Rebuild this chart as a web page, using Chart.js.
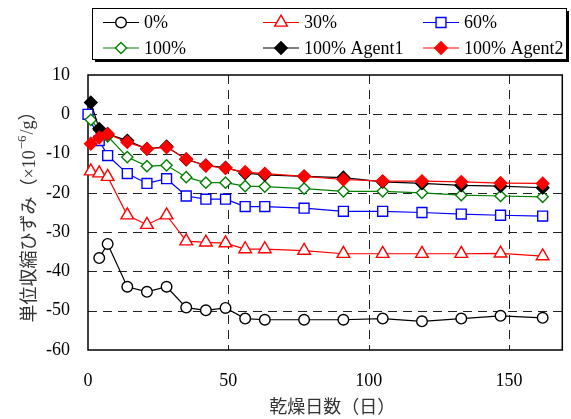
<!DOCTYPE html>
<html>
<head>
<meta charset="utf-8">
<script src="https://cdn.jsdelivr.net/npm/chart.js@4.4.1/dist/chart.umd.min.js"></script>
<style>
  html, body { margin: 0; padding: 0; background: #fff; }
  #wrap { width: 571px; height: 419px; }
</style>
</head>
<body>
<div id="wrap"><canvas id="c" width="571" height="419"></canvas></div>
<script>
// Drying days at which each specimen was measured
const daysFrom4 = [4, 7, 14, 21, 28, 35, 42, 49, 56, 63, 77, 91, 105, 119, 133, 147, 162];
const daysFrom1 = [1, 4, 7, 14, 21, 28, 35, 42, 49, 56, 63, 77, 91, 105, 119, 133, 147, 162];
const daysFrom0 = [0, 4, 7, 14, 21, 28, 35, 42, 49, 56, 63, 77, 91, 105, 119, 133, 147, 162];

const seriesNames = ['0%', '30%', '60%', '100%', '100% Agent1', '100% Agent2'];

// Unit shrinkage strain (×10^-6 /g)
const shrink0   = [-36.6, -33.0, -43.9, -45.2, -43.9, -49.2, -49.9, -49.3, -52.0, -52.3, -52.3, -52.3, -52.0, -52.7, -52.0, -51.3, -51.8];
const shrink30  = [-14.5, -15.0, -15.9, -25.7, -28.1, -25.7, -32.3, -32.6, -32.8, -34.3, -34.3, -34.7, -35.5, -35.5, -35.5, -35.5, -35.4, -36.1];
const shrink60  = [0.0, -6.7, -10.5, -15.1, -17.6, -16.4, -20.8, -21.6, -21.6, -23.5, -23.5, -23.9, -24.7, -24.7, -25.0, -25.4, -25.7, -25.9];
const shrink100 = [-1.4, -4.0, -5.6, -10.9, -13.2, -13.0, -16.0, -17.4, -17.4, -18.3, -18.4, -18.9, -19.6, -19.6, -20.0, -20.6, -20.8, -21.0];
const shrinkA1  = [3.0, -3.7, -5.0, -6.7, -8.8, -8.2, -11.5, -13.0, -13.6, -15.0, -15.4, -15.8, -16.1, -17.2, -17.6, -18.1, -18.3, -18.7];
const shrinkA2  = [-7.5, -5.9, -5.0, -7.1, -8.8, -8.4, -11.4, -13.1, -13.7, -14.7, -15.1, -15.8, -16.6, -17.0, -17.0, -17.2, -17.5, -17.6];

const xTicks = [0, 50, 100, 150];
const yTicks = [-60, -50, -40, -30, -20, -10, 0, 10];

const xTitle = '乾燥日数（日）';
const yTitleMain = '単位収縮ひずみ（×10';
const yTitleSup = '−6';
const yTitleTail = '/g）';

const pair = (xs, ys) => xs.map((x, i) => ({ x: x, y: ys[i] }));

const serifFont = '"Liberation Serif", "Times New Roman", "Noto Sans CJK JP", serif';
const cjkFont = '"Liberation Serif", "Noto Sans CJK JP", sans-serif';

function series(i, xs, ys, color, style, radius, filled) {
  return {
    label: seriesNames[i],
    data: pair(xs, ys),
    borderColor: color,
    backgroundColor: color,
    borderWidth: 1.2,
    pointStyle: style,
    pointRadius: radius,
    pointHoverRadius: radius,
    pointBorderColor: color,
    pointBackgroundColor: filled ? color : '#ffffff',
    pointBorderWidth: 1.4,
    fill: false,
    tension: 0,
    clip: false,
    order: 5 - i
  };
}

const datasets = [
  series(0, daysFrom4, shrink0,   '#000000', 'circle',   5.3, false),
  series(1, daysFrom1, shrink30,  '#ff0000', 'triangle', 7.3, false),
  series(2, daysFrom0, shrink60,  '#0000ff', 'rect',     7,   false),
  series(3, daysFrom1, shrink100, '#008000', 'rectRot',  5.6, false),
  series(4, daysFrom1, shrinkA1,  '#000000', 'rectRot',  6.2, true),
  series(5, daysFrom1, shrinkA2,  '#ff0000', 'rectRot',  6.2, true)
];

// Dashed grid at the inner ticks plus a solid frame around the plotting area
const framePlugin = {
  id: 'frame',
  beforeDatasetsDraw(chart) {
    const a = chart.chartArea, ctx = chart.ctx;
    const xs = chart.scales.x, ys = chart.scales.y;
    ctx.save();
    ctx.strokeStyle = '#222';
    ctx.lineWidth = 1;
    ctx.setLineDash([9, 6]);
    xTicks.forEach(v => {
      const px = Math.round(xs.getPixelForValue(v)) + 0.5;
      if (px <= a.left + 1 || px >= a.right - 1) return;
      ctx.beginPath(); ctx.moveTo(px, a.top); ctx.lineTo(px, a.bottom); ctx.stroke();
    });
    yTicks.forEach(v => {
      const py = Math.round(ys.getPixelForValue(v)) + 0.5;
      if (py <= a.top + 1 || py >= a.bottom - 1) return;
      ctx.beginPath(); ctx.moveTo(a.left, py); ctx.lineTo(a.right, py); ctx.stroke();
    });
    ctx.setLineDash([]);
    ctx.strokeStyle = '#000';
    ctx.lineWidth = 1.5;
    ctx.strokeRect(a.left, a.top, a.right - a.left, a.bottom - a.top);
    ctx.restore();
  }
};

// Boxed legend in three columns with a drop shadow, and the axis titles
const legendPlugin = {
  id: 'boxLegend',
  afterDraw(chart) {
    const ctx = chart.ctx;
    const bx = 92, by = 8, bw = 474, bh = 51;
    ctx.save();
    ctx.fillStyle = '#000';
    ctx.fillRect(bx + 3, by + 3, bw, bh);
    ctx.fillStyle = '#fff';
    ctx.fillRect(bx, by, bw, bh);
    ctx.strokeStyle = '#000';
    ctx.lineWidth = 1;
    ctx.strokeRect(bx + 0.5, by + 0.5, bw, bh);

    const colX = [103, 263, 423];
    const rowY = [22.5, 48];
    const lineLen = 36;
    chart.data.datasets.forEach((ds, i) => {
      const x0 = colX[i % 3], y = rowY[Math.floor(i / 3)];
      ctx.strokeStyle = ds.borderColor;
      ctx.lineWidth = 1.2;
      ctx.beginPath();
      ctx.moveTo(x0, y);
      ctx.lineTo(x0 + lineLen, y);
      ctx.stroke();
      ctx.fillStyle = ds.pointBackgroundColor;
      ctx.strokeStyle = ds.pointBorderColor;
      ctx.lineWidth = ds.pointBorderWidth;
      Chart.helpers.drawPoint(ctx, {
        pointStyle: ds.pointStyle, radius: ds.pointRadius, rotation: 0, borderWidth: ds.pointBorderWidth
      }, x0 + lineLen / 2, y);
      ctx.fillStyle = '#000';
      ctx.font = '18px ' + serifFont;
      ctx.textAlign = 'left';
      ctx.textBaseline = 'middle';
      ctx.fillText(ds.label, x0 + lineLen + 5, y + 1);
    });

    // axis titles
    const a = chart.chartArea;
    ctx.fillStyle = '#333';
    ctx.font = '18px ' + cjkFont;
    ctx.textAlign = 'center';
    ctx.textBaseline = 'middle';
    ctx.fillText(xTitle, (a.left + a.right) / 2 + 7, 408);

    ctx.translate(30, (a.top + a.bottom) / 2);
    ctx.rotate(-Math.PI / 2);
    ctx.textAlign = 'left';
    ctx.textBaseline = 'middle';
    const mainFont = '18px ' + cjkFont, supFont = '13px ' + serifFont;
    ctx.font = mainFont;
    const w1 = ctx.measureText(yTitleMain).width;
    const w3 = ctx.measureText(yTitleTail).width;
    ctx.font = supFont;
    const w2 = ctx.measureText(yTitleSup).width + 2;
    let x = -(w1 + w2 + w3) / 2;
    ctx.font = mainFont;
    ctx.fillText(yTitleMain, x, 0);
    x += w1;
    ctx.font = supFont;
    ctx.fillText(yTitleSup, x + 1, -7);
    x += w2;
    ctx.font = mainFont;
    ctx.fillText(yTitleTail, x, -2);
    ctx.restore();
  }
};

new Chart(document.getElementById('c'), {
  type: 'line',
  data: { datasets: datasets },
  options: {
    responsive: false,
    animation: false,
    events: [],
    layout: { padding: { top: 75, right: 6, left: 0, bottom: 0 } },
    plugins: { legend: { display: false }, tooltip: { enabled: false } },
    scales: {
      x: {
        type: 'linear',
        min: 0,
        max: 169,
        afterBuildTicks(scale) { scale.ticks = xTicks.map(v => ({ value: v })); },
        afterFit(scale) { scale.height = 69; },
        ticks: {
          color: '#000',
          font: { family: serifFont, size: 18 },
          padding: 20,
          maxRotation: 0
        },
        grid: { display: false, drawTicks: false },
        border: { display: false }
      },
      y: {
        type: 'linear',
        min: -60,
        max: 10,
        afterBuildTicks(scale) { scale.ticks = yTicks.map(v => ({ value: v })); },
        afterFit(scale) { scale.width = 88; },
        ticks: {
          color: '#000',
          font: { family: serifFont, size: 18 },
          padding: 18
        },
        grid: { display: false, drawTicks: false },
        border: { display: false }
      }
    }
  },
  plugins: [framePlugin, legendPlugin]
});
</script>
</body>
</html>
